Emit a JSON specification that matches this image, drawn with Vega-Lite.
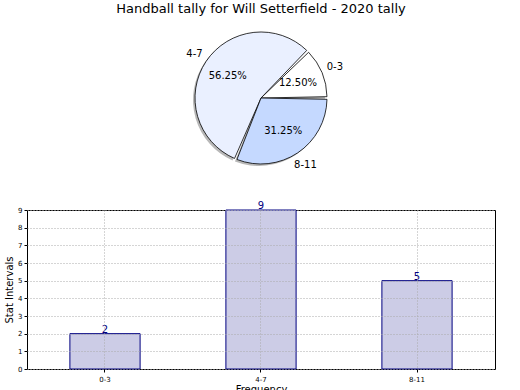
{
  "$schema": "https://vega.github.io/schema/vega-lite/v6.json",
  "padding": {"left": 4, "top": 3, "right": 0, "bottom": 0},
  "background": "white",
  "bounds": "flush",
  "spacing": 36,
  "data": {
    "values": [
      {"interval": "0-3", "count": 2, "pct": "12.50%", "ord": 3},
      {"interval": "4-7", "count": 9, "pct": "56.25%", "ord": 2},
      {"interval": "8-11", "count": 5, "pct": "31.25%", "ord": 1}
    ]
  },
  "config": {
    "font": "DejaVu Sans",
    "view": {"stroke": null},
    "title": {"font": "DejaVu Sans", "fontWeight": "normal", "fontSize": 13, "color": "black"}
  },
  "vconcat": [
    {
      "width": 468,
      "height": 152,
      "title": {"text": "Handball tally for Will Setterfield - 2020 tally", "anchor": "middle", "offset": 6},
      "view": {"stroke": null},
      "encoding": {
        "theta": {"field": "count", "type": "quantitative", "stack": true, "scale": {"range": [1.5708, 7.854]}},
        "order": {"field": "ord", "type": "quantitative"}
      },
      "layer": [
        {
          "mark": {"type": "arc", "outerRadius": 66, "padAngle": 0.04, "color": "#888888", "opacity": 0.6, "xOffset": -2, "yOffset": 2}
        },
        {
          "mark": {"type": "arc", "outerRadius": 66, "padAngle": 0.04, "stroke": "black", "strokeWidth": 0.8},
          "encoding": {
            "color": {"field": "interval", "type": "nominal", "legend": null,
              "scale": {"domain": ["0-3", "4-7", "8-11"], "range": ["#FFFFFF", "#EAF0FF", "#C5D9FF"]}}
          }
        },
        {
          "mark": {"type": "text", "radius": 40, "fontSize": 10, "color": "black"},
          "encoding": {"text": {"field": "pct", "type": "nominal"}}
        },
        {
          "mark": {"type": "text", "radius": 80, "fontSize": 10, "color": "black"},
          "encoding": {"text": {"field": "interval", "type": "nominal"}}
        }
      ]
    },
    {
      "width": 468,
      "height": 159,
      "view": {"stroke": "black", "strokeWidth": 1},
      "encoding": {
        "x": {"field": "interval", "type": "nominal", "sort": ["0-3", "4-7", "8-11"],
          "scale": {"paddingInner": 0.55, "paddingOuter": 0.275},
          "axis": {"title": "Frequency", "titleFontSize": 10, "titleFontWeight": "normal", "titlePadding": 2,
            "labelAngle": 0, "labelFontSize": 7, "labelColor": "black", "labelPadding": 3,
            "domain": false, "ticks": true, "tickSize": 3, "tickColor": "black", "bandPosition": 0.5,
            "grid": true, "gridDash": [1, 2], "gridColor": "#aaaaaa", "zindex": 1}},
        "y": {"field": "count", "type": "quantitative",
          "scale": {"domain": [0, 9], "nice": false},
          "axis": {"title": "Stat Intervals", "titleFontSize": 10, "titleFontWeight": "normal", "titlePadding": 3,
            "values": [0, 1, 2, 3, 4, 5, 6, 7, 8, 9], "labelFontSize": 7, "labelColor": "black", "labelPadding": 2,
            "domain": false, "tickSize": 3, "tickColor": "black",
            "grid": true, "gridDash": [1, 2], "gridColor": "#aaaaaa", "zindex": 1}}
      },
      "layer": [
        {"mark": {"type": "bar", "fill": "#CCCCE6", "stroke": "#000080", "strokeWidth": 1}},
        {
          "mark": {"type": "text", "baseline": "bottom", "dy": 1, "fontSize": 10, "color": "#000080"},
          "encoding": {"text": {"field": "count", "type": "quantitative"}}
        }
      ]
    }
  ]
}
